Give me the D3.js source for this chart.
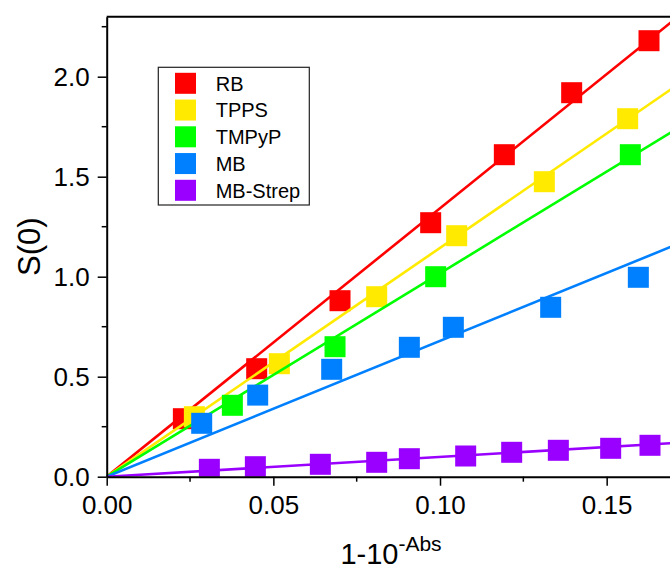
<!DOCTYPE html>
<html>
<head>
<meta charset="utf-8">
<script src="https://cdn.jsdelivr.net/npm/d3@7"></script>
<style>
  html, body { margin: 0; padding: 0; background: #fff; }
  svg { display: block; font-family: "Liberation Sans", Arial, sans-serif; }
</style>
</head>
<body>
<svg id="chart" width="670" height="570"></svg>
<script>
// Series names and colours
const seriesNames = ["RB", "TPPS", "TMPyP", "MB", "MB-Strep"];
const seriesColors = ["#ff0000", "#ffea00", "#00ff00", "#0080ff", "#9900ff"];

// Measured points: x = 1-10^-Abs, y = S(0)
const rbX = [0.023, 0.045, 0.070, 0.0972, 0.1193, 0.1395, 0.1627];
const rbY = [0.29, 0.54, 0.88, 1.27, 1.61, 1.92, 2.18];
const tppsX = [0.0263, 0.0518, 0.081, 0.105, 0.1313, 0.1563];
const tppsY = [0.30, 0.565, 0.90, 1.205, 1.475, 1.79];
const tmpypX = [0.0377, 0.0685, 0.0987, 0.1571];
const tmpypY = [0.357, 0.65, 1.0, 1.61];
const mbX = [0.0285, 0.0453, 0.0675, 0.0908, 0.104, 0.1332, 0.1595];
const mbY = [0.267, 0.408, 0.537, 0.647, 0.747, 0.847, 0.997];
const strepX = [0.0308, 0.0446, 0.0641, 0.081, 0.0908, 0.1077, 0.1215, 0.1355, 0.1512, 0.163];
const strepY = [0.037, 0.05, 0.062, 0.072, 0.09, 0.1035, 0.122, 0.132, 0.142, 0.157];

// Slopes of the linear fits through the origin
const fitSlopes = [13.42, 11.44, 10.17, 6.79, 0.99];

// Axis ticks
const xMajorTicks = [0, 0.05, 0.10, 0.15];
const xMinorTicks = [0.025, 0.075, 0.125];
const yMajorTicks = [0, 0.5, 1.0, 1.5, 2.0];
const yMinorTicks = [0.25, 0.75, 1.25, 1.75, 2.25];

const xsList = [rbX, tppsX, tmpypX, mbX, strepX];
const ysList = [rbY, tppsY, tmpypY, mbY, strepY];

const svg = d3.select("#chart");
const plotLeft = 106.7, plotRight = 675, plotTop = 16.7, plotBottom = 476.7;

const x = d3.scaleLinear().domain([0, 0.1705]).range([plotLeft, plotRight]);
const y = d3.scaleLinear().domain([0, 2.3]).range([plotBottom, plotTop]);

svg.append("defs").append("clipPath").attr("id", "plotClip")
  .append("rect").attr("x", plotLeft).attr("y", plotTop)
  .attr("width", plotRight - plotLeft).attr("height", plotBottom - plotTop);

const plot = svg.append("g").attr("clip-path", "url(#plotClip)");

const sq = 21;
seriesNames.forEach((name, i) => {
  const g = plot.append("g").attr("class", "series");
  const pts = xsList[i].map((v, j) => [v, ysList[i][j]]);
  g.selectAll("rect").data(pts).join("rect")
    .attr("x", d => x(d[0]) - sq / 2)
    .attr("y", d => y(d[1]) - sq / 2)
    .attr("width", sq).attr("height", sq)
    .attr("fill", seriesColors[i]);
  const xd = x.domain();
  g.append("line")
    .attr("x1", x(0)).attr("y1", y(0))
    .attr("x2", x(xd[1])).attr("y2", y(fitSlopes[i] * xd[1]))
    .attr("stroke", seriesColors[i])
    .attr("stroke-width", 2.6);
});

// Axes
const tickFont = 26;
const xAxis = svg.append("g").attr("transform", `translate(0,${plotBottom})`)
  .call(d3.axisBottom(x).tickValues(xMajorTicks).tickFormat(d3.format(".2f"))
    .tickSize(9).tickPadding(10).tickSizeOuter(0));
xAxis.append("g").selectAll("line").data(xMinorTicks).join("line")
  .attr("x1", d => x(d)).attr("x2", d => x(d))
  .attr("y1", 0).attr("y2", 5).attr("stroke", "#000").attr("stroke-width", 1.5);

const yAxis = svg.append("g").attr("transform", `translate(${plotLeft},0)`)
  .call(d3.axisLeft(y).tickValues(yMajorTicks).tickFormat(d3.format(".1f"))
    .tickSize(9).tickPadding(8).tickSizeOuter(0));
yAxis.append("g").selectAll("line").data(yMinorTicks).join("line")
  .attr("x1", 0).attr("x2", -5)
  .attr("y1", d => y(d)).attr("y2", d => y(d))
  .attr("stroke", "#000").attr("stroke-width", 1.5);

[xAxis, yAxis].forEach(a => {
  a.select(".domain").attr("stroke", "#000").attr("stroke-width", 2);
  a.selectAll(".tick line").attr("stroke", "#000").attr("stroke-width", 1.5);
  a.selectAll(".tick text").attr("font-size", tickFont)
    .attr("font-family", "Liberation Sans, Arial, sans-serif").attr("fill", "#000");
});

// Top and right frame lines
svg.append("line").attr("x1", plotLeft).attr("x2", plotRight).attr("y1", plotTop).attr("y2", plotTop)
  .attr("stroke", "#000").attr("stroke-width", 2);
svg.append("line").attr("x1", plotRight).attr("x2", plotRight).attr("y1", plotTop).attr("y2", plotBottom)
  .attr("stroke", "#000").attr("stroke-width", 2);

// Axis titles
svg.append("text")
  .attr("transform", `translate(40,${(plotTop + plotBottom) / 2}) rotate(-90)`)
  .attr("text-anchor", "middle").attr("font-size", 31).attr("fill", "#000")
  .text("S(0)");

const xt = svg.append("text")
  .attr("x", 391).attr("y", 564)
  .attr("text-anchor", "middle").attr("font-size", 29).attr("fill", "#000");
xt.append("tspan").text("1-10");
xt.append("tspan").attr("font-size", 21).attr("dy", -13).text("-Abs");

// Legend
const lg = svg.append("g");
lg.append("rect").attr("x", 158.3).attr("y", 67.3).attr("width", 151).attr("height", 137.7)
  .attr("fill", "#fff").attr("stroke", "#222").attr("stroke-width", 1.2);
seriesNames.forEach((name, i) => {
  const cy = 83.3 + i * 26.75;
  lg.append("rect").attr("x", 175).attr("y", cy - 10.5).attr("width", 21).attr("height", 21)
    .attr("fill", seriesColors[i]);
  lg.append("text").attr("x", 215.7).attr("y", cy + 7.4)
    .attr("font-size", 20).attr("fill", "#000").text(name);
});
</script>
</body>
</html>
